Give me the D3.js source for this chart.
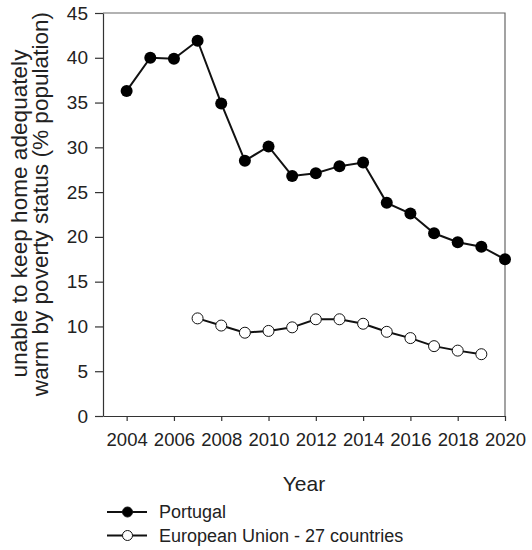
<!DOCTYPE html>
<html>
<head>
<meta charset="utf-8">
<script src="https://cdn.jsdelivr.net/npm/d3@7"></script>
<style>
  body { margin: 0; background: #fff; }
  text { font-family: "Liberation Sans", Arial, sans-serif; fill: #222; }
</style>
</head>
<body>
<div id="chart"></div>
<script>
// Data
const years = [2004, 2005, 2006, 2007, 2008, 2009, 2010, 2011, 2012, 2013, 2014, 2015, 2016, 2017, 2018, 2019, 2020];
const portugal = [36.3, 40.0, 39.9, 41.9, 34.9, 28.5, 30.1, 26.8, 27.1, 27.9, 28.3, 23.8, 22.6, 20.4, 19.4, 18.9, 17.5];
const euYears = [2007, 2008, 2009, 2010, 2011, 2012, 2013, 2014, 2015, 2016, 2017, 2018, 2019];
const eu27 = [10.9, 10.1, 9.3, 9.5, 9.9, 10.8, 10.8, 10.3, 9.4, 8.7, 7.8, 7.3, 6.9];
const xTicks = [2004, 2006, 2008, 2010, 2012, 2014, 2016, 2018, 2020];
const yTicks = [0, 5, 10, 15, 20, 25, 30, 35, 40, 45];
const seriesNames = ["Portugal", "European Union - 27 countries"];

// Margins of the graph
const margin = { top: 13, right: 27, bottom: 134, left: 103 };
const width = 532 - margin.left - margin.right;
const height = 550 - margin.top - margin.bottom;

const root = d3.select("#chart")
  .append("svg")
  .attr("width", 532)
  .attr("height", 550);

const svg = root.append("g")
  .attr("transform", `translate(${margin.left}, ${margin.top})`);

const x = d3.scaleLinear([2003, 2020], [0, width]);
const y = d3.scaleLinear([0, 45], [height, 0]);

// frame (top and right)
svg.append("path")
  .attr("d", `M0,0H${width}V${height}`)
  .attr("fill", "none")
  .attr("stroke", "#666")
  .attr("stroke-width", 1.2);

// x axis
const gx = svg.append("g")
  .attr("transform", `translate(0, ${height})`)
  .call(d3.axisBottom(x).tickValues(xTicks).tickFormat(d3.format("d"))
    .tickSize(5).tickSizeOuter(0).tickPadding(12));
gx.selectAll("text").style("font-size", "18.5px");

// y axis
const gy = svg.append("g")
  .call(d3.axisLeft(y).tickValues(yTicks).tickSize(8).tickSizeOuter(0).tickPadding(7));
gy.selectAll("text").style("font-size", "19px");

svg.selectAll(".domain, .tick line").attr("stroke", "#333").attr("stroke-width", 1.2);

// axis titles
root.append("text")
  .attr("x", margin.left + width / 2)
  .attr("y", 491)
  .attr("text-anchor", "middle")
  .style("font-size", "21px")
  .text("Year");

root.append("text")
  .attr("transform", "translate(27, 213.5) rotate(-90)")
  .attr("text-anchor", "middle")
  .style("font-size", "22.6px")
  .text("unable to keep home adequately");

root.append("text")
  .attr("transform", "translate(48, 204) rotate(-90)")
  .attr("text-anchor", "middle")
  .style("font-size", "22.6px")
  .text("warm by poverty status (% population)");

const line = d3.line()
  .x(d => x(d[0]))
  .y(d => y(d[1]));

const ptData = years.map((yr, i) => [yr, portugal[i]]);
const euData = euYears.map((yr, i) => [yr, eu27[i]]);

// EU series
svg.append("path")
  .datum(euData)
  .attr("fill", "none")
  .attr("stroke", "#111")
  .attr("stroke-width", 2)
  .attr("d", line);

svg.append("g")
  .selectAll("circle")
  .data(euData)
  .join("circle")
  .attr("cx", d => x(d[0]))
  .attr("cy", d => y(d[1]))
  .attr("r", 5.5)
  .attr("fill", "#fff")
  .attr("stroke", "#111")
  .attr("stroke-width", 1);

// Portugal series
svg.append("path")
  .datum(ptData)
  .attr("fill", "none")
  .attr("stroke", "#111")
  .attr("stroke-width", 2)
  .attr("d", line);

svg.append("g")
  .selectAll("circle")
  .data(ptData)
  .join("circle")
  .attr("cx", d => x(d[0]))
  .attr("cy", d => y(d[1]))
  .attr("r", 6)
  .attr("fill", "#000");

// legend
const legend = root.append("g").attr("transform", "translate(107, 512)");
seriesNames.forEach((name, i) => {
  const g = legend.append("g").attr("transform", `translate(0, ${i * 23.5})`);
  g.append("line")
    .attr("x1", 0).attr("x2", 40)
    .attr("stroke", "#111").attr("stroke-width", 2);
  g.append("circle")
    .attr("cx", 20.5).attr("r", 5)
    .attr("fill", i === 0 ? "#000" : "#fff")
    .attr("stroke", "#111").attr("stroke-width", 1);
  g.append("text")
    .attr("x", 52)
    .attr("dy", "0.35em")
    .style("font-size", "18px")
    .text(name);
});
</script>
</body>
</html>
